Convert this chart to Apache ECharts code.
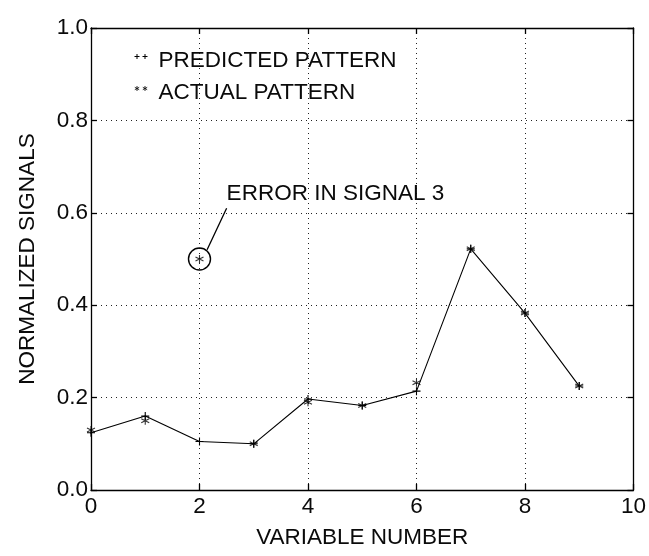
<!DOCTYPE html>
<html>
<head>
<meta charset="utf-8">
<script src="https://cdn.jsdelivr.net/npm/echarts@6/dist/echarts.min.js"></script>
<style>
html,body{margin:0;padding:0;background:#fff;}
#chart{width:649px;height:556px;}
</style>
</head>
<body>
<div id="chart"></div>
<script>
const variables = [0, 1, 2, 3, 4, 5, 6, 7, 8, 9];
const predicted = [0.124, 0.16, 0.105, 0.10, 0.197, 0.183, 0.214, 0.522, 0.383, 0.225];
const actual = [0.13, 0.15, 0.50, 0.10, 0.19, 0.183, 0.232, 0.522, 0.383, 0.225];
const xTicks = [0, 2, 4, 6, 8, 10];
const yTicks = [0.0, 0.2, 0.4, 0.6, 0.8, 1.0];
const errorIndex = 2;
const errorLabel = 'ERROR IN SIGNAL 3';
const legendNames = ['PREDICTED PATTERN', 'ACTUAL PATTERN'];

const FONT = '"Liberation Sans", Arial, Helvetica, sans-serif';
const FS = 22.5;
const TXT = '#0a0a0a';
const plusPath = 'path://M0,5L10,5M5,0L5,10';
const starPath = 'path://M5,0L5,10M0.67,2.5L9.33,7.5M0.67,7.5L9.33,2.5';
// two small markers in the upper part of a 20x14 box (corner points only set the box)
const plusPair = 'path://M0,0L0,0M20,14L20,14M1,3L6,3M3.5,0.5L3.5,5.5M9,3L14,3M11.5,0.5L11.5,5.5';
const starPair = 'path://M0,0L0,0M20,14L20,14M3.5,0.5L3.5,5.5M1.3,1.8L5.7,4.2M1.3,4.2L5.7,1.8M11.5,0.5L11.5,5.5M9.3,1.8L13.7,4.2M9.3,4.2L13.7,1.8';

const chart = echarts.init(document.getElementById('chart'));
const axLine = {color: '#000', width: 1.3};
const option = {
  backgroundColor: '#fff',
  animation: false,
  grid: {left: 91, right: 13, top: 28, bottom: 66},
  legend: {
    orient: 'vertical',
    left: 128,
    top: 44,
    itemWidth: 20,
    itemHeight: 14,
    itemGap: 9,
    textStyle: {fontFamily: FONT, fontSize: FS, color: TXT},
    data: [
      {name: legendNames[0], icon: plusPair, itemStyle: {color: '#000', borderColor: '#000', borderWidth: 1}},
      {name: legendNames[1], icon: starPair, itemStyle: {color: '#000', borderColor: '#000', borderWidth: 1}}
    ]
  },
  xAxis: [{
    type: 'value', min: xTicks[0], max: xTicks[xTicks.length - 1], interval: 2,
    name: 'VARIABLE NUMBER', nameLocation: 'middle', nameGap: 36,
    nameTextStyle: {fontFamily: FONT, fontSize: FS, color: TXT},
    axisLine: {show: true, onZero: false, lineStyle: axLine},
    axisTick: {show: true, inside: true, length: 6, lineStyle: axLine},
    axisLabel: {fontFamily: FONT, fontSize: FS, color: TXT, margin: 5},
    splitLine: {show: true, lineStyle: {type: [1, 4], color: '#222', width: 1}}
  }, {
    type: 'value', position: 'top', min: xTicks[0], max: xTicks[xTicks.length - 1], interval: 2,
    axisLine: {show: true, onZero: false, lineStyle: axLine},
    axisTick: {show: true, inside: true, length: 6, lineStyle: axLine},
    axisLabel: {show: false}, splitLine: {show: false}
  }],
  yAxis: [{
    type: 'value', min: yTicks[0], max: yTicks[yTicks.length - 1], interval: 0.2,
    name: 'NORMALIZED SIGNALS', nameLocation: 'middle', nameGap: 52, nameRotate: 90,
    nameTextStyle: {fontFamily: FONT, fontSize: FS, color: TXT},
    axisLine: {show: true, onZero: false, lineStyle: axLine},
    axisTick: {show: true, inside: true, length: 6, lineStyle: axLine},
    axisLabel: {fontFamily: FONT, fontSize: FS, color: TXT, margin: 3,
      formatter: v => v.toFixed(1)},
    splitLine: {show: true, lineStyle: {type: [1, 4], color: '#222', width: 1}}
  }, {
    type: 'value', position: 'right', min: yTicks[0], max: yTicks[yTicks.length - 1], interval: 0.2,
    axisLine: {show: true, onZero: false, lineStyle: axLine},
    axisTick: {show: true, inside: true, length: 6, lineStyle: axLine},
    axisLabel: {show: false}, splitLine: {show: false}
  }],
  series: [{
    name: legendNames[0],
    type: 'line',
    data: variables.map((v, i) => [v, predicted[i]]),
    symbol: plusPath,
    symbolSize: 8,
    showSymbol: true,
    lineStyle: {color: '#000', width: 1.1},
    itemStyle: {color: '#000', borderColor: '#000', borderWidth: 1.1},
    z: 3
  }, {
    name: legendNames[1],
    type: 'scatter',
    data: variables.map((v, i) => [v, actual[i]]),
    symbol: starPath,
    symbolSize: 8,
    itemStyle: {color: '#000', borderColor: '#000', borderWidth: 1.1},
    z: 4,
    markPoint: {
      silent: true,
      data: [{
        coord: [variables[errorIndex], actual[errorIndex]],
        symbol: 'circle', symbolSize: 22,
        itemStyle: {color: 'rgba(0,0,0,0)', borderColor: '#000', borderWidth: 1.4},
        label: {show: false}
      }, {
        coord: [2.5, 0.642],
        symbol: 'circle', symbolSize: 0,
        label: {show: true, position: 'right', distance: 0, formatter: errorLabel,
          fontFamily: FONT, fontSize: FS, color: TXT}
      }]
    },
    markLine: {
      silent: true,
      symbol: ['none', 'none'],
      lineStyle: {color: '#000', width: 1.3, type: 'solid'},
      label: {show: false},
      data: [[{coord: [2.14, 0.52]}, {coord: [2.5, 0.61]}]]
    }
  }]
};
chart.setOption(option);
</script>
</body>
</html>
